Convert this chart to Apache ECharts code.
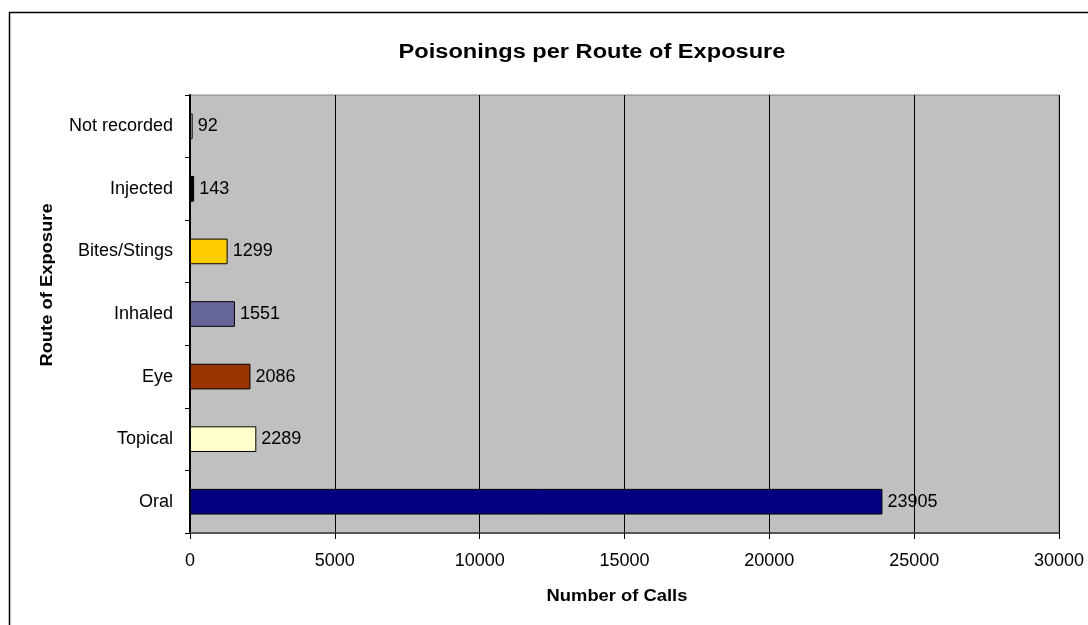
<!DOCTYPE html>
<html>
<head>
<meta charset="utf-8">
<script src="https://cdn.jsdelivr.net/npm/echarts@6/dist/echarts.min.js"></script>
<style>
	html, body { margin: 0; padding: 0; background: #fff; }
	#main { width: 1088px; height: 625px; }
</style>
</head>
<body>
<div id="main"></div>
<script>
	// data, bottom to top
	var routes = ['Oral', 'Topical', 'Eye', 'Inhaled', 'Bites/Stings', 'Injected', 'Not recorded'];
	var calls = [23905, 2289, 2086, 1551, 1299, 143, 92];
	var barColors = ['#000080', '#ffffcc', '#993300', '#666699', '#ffcc00', '#000000', '#c0c0c0'];
	var xTicks = [0, 5000, 10000, 15000, 20000, 25000, 30000];

	var font = 'Arial, "Liberation Sans", sans-serif';
	var chart = echarts.init(document.getElementById('main'));

	var option = {
		backgroundColor: '#ffffff',
		animation: false,
		graphic: [
			{
				type: 'rect',
				shape: { x: 9.5, y: 12.5, width: 1200, height: 700 },
				style: { fill: null, stroke: '#000', lineWidth: 1.5 },
				silent: true
			},
			{
				// title
				type: 'text',
				x: 592,
				y: 52,
				scaleX: 1.18,
				style: {
					text: 'Poisonings per Route of Exposure',
					font: 'bold 20px ' + font,
					fill: '#000',
					align: 'center',
					verticalAlign: 'middle'
				}
			},
			{
				type: 'text',
				x: 47,
				y: 285,
				rotation: Math.PI / 2,
				scaleX: 1.08,
				style: {
					text: 'Route of Exposure',
					font: 'bold 17px ' + font,
					fill: '#000',
					align: 'center',
					verticalAlign: 'middle'
				}
			},
			{
				type: 'text',
				x: 617,
				y: 596,
				scaleX: 1.08,
				style: {
					text: 'Number of Calls',
					font: 'bold 17px ' + font,
					fill: '#000',
					align: 'center',
					verticalAlign: 'middle'
				}
			}
		],
		grid: {
			left: 190,
			right: 29,
			top: 95,
			bottom: 92,
			show: true,
			backgroundColor: '#c0c0c0',
			borderColor: '#808080',
			borderWidth: 1
		},
		xAxis: {
			type: 'value',
			min: xTicks[0],
			max: xTicks[xTicks.length - 1],
			interval: xTicks[1] - xTicks[0],
			axisLine: { show: true, lineStyle: { color: '#555', width: 2 } },
			axisTick: { show: true, length: 6, lineStyle: { color: '#000' } },
			axisLabel: {
				margin: 19,
				fontFamily: font,
				fontSize: 18,
				color: '#000',
				formatter: function (v) { return String(v); }
			},
			splitLine: { show: true, lineStyle: { color: '#000', width: 1 } }
		},
		yAxis: {
			type: 'category',
			data: routes,
			axisLine: { show: true, lineStyle: { color: '#000', width: 2 } },
			axisTick: { show: true, length: 5, lineStyle: { color: '#000' } },
			axisLabel: { margin: 17, fontFamily: font, fontSize: 18, color: '#000' },
			splitLine: { show: false }
		},
		series: [
			{
				type: 'bar',
				data: calls.map(function (v, i) {
					return { value: v, itemStyle: { color: barColors[i] } };
				}),
				barCategoryGap: '59%',
				itemStyle: { borderColor: '#000', borderWidth: 1 },
				label: {
					show: true,
					position: 'right',
					distance: 5,
					fontFamily: font,
					fontSize: 18,
					color: '#000'
				}
			}
		]
	};
	chart.setOption(option);
</script>
</body>
</html>
